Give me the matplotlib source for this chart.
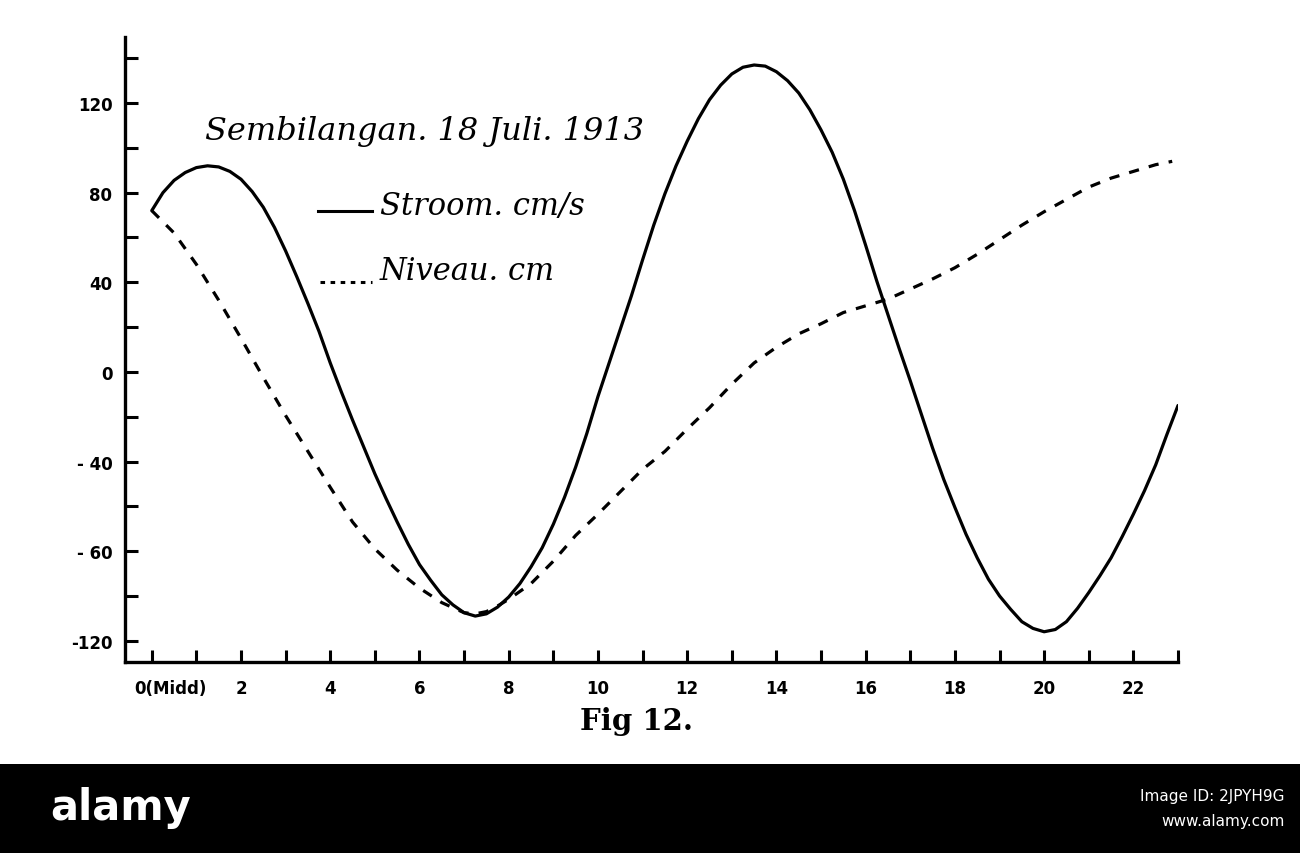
import matplotlib
matplotlib.use("Agg")
import matplotlib.pyplot as plt
from matplotlib.lines import Line2D
from matplotlib.patches import Rectangle

# Stroom (current, cm/s), every quarter hour
stroom_hour = [0, 0.25, 0.5, 0.75, 1.0, 1.25, 1.5, 1.75, 2.0, 2.25, 2.5, 2.75,
               3.0, 3.25, 3.5, 3.75, 4.0, 4.25, 4.5, 4.75, 5.0, 5.25, 5.5, 5.75,
               6.0, 6.25, 6.5, 6.75, 7.0, 7.25, 7.5, 7.75, 8.0, 8.25, 8.5, 8.75,
               9.0, 9.25, 9.5, 9.75, 10.0, 10.25, 10.5, 10.75, 11.0, 11.25, 11.5,
               11.75, 12.0, 12.25, 12.5, 12.75, 13.0, 13.25, 13.5, 13.75, 14.0,
               14.25, 14.5, 14.75, 15.0, 15.25, 15.5, 15.75, 16.0, 16.25, 16.5,
               16.75, 17.0, 17.25, 17.5, 17.75, 18.0, 18.25, 18.5, 18.75, 19.0,
               19.25, 19.5, 19.75, 20.0, 20.25, 20.5, 20.75, 21.0, 21.25, 21.5,
               21.75, 22.0, 22.25, 22.5, 22.75, 23.0]
stroom_val = [72, 80, 85.5, 89, 91.2, 92, 91.5, 89.5, 86, 80.5, 73.5, 64.5,
              54, 42.5, 30.5, 18, 4, -9, -21.5, -33.5, -45.5, -56.5, -67, -77,
              -86, -93, -99.5, -104, -107.5, -109, -108, -105, -100.5, -94.5, -87, -78.5,
              -68, -56, -42.5, -27.5, -11, 4, 19, 34, 50, 65.5, 79.5,
              92, 103, 113, 121.5, 128, 133, 136, 137, 136.5, 134,
              130, 124.5, 117, 108, 98, 86, 72, 56.5, 40.5, 25.5,
              10.5, -4, -19, -34, -48, -60.5, -72.5, -83, -92.5, -100,
              -106, -111.5, -114.5, -116, -115, -111.5, -105.5, -98.5, -91, -83,
              -73.5, -63.5, -53, -41.5, -28, -15]

# Niveau (water level, cm)
niveau_hour = [0, 0.5, 1.0, 1.5, 2.0, 2.5, 3.0, 3.5, 4.0, 4.5, 5.0, 5.5,
               6.0, 6.5, 7.0, 7.25, 7.5, 7.75, 8.0, 8.5, 9.0, 9.5, 10.0, 10.5,
               11.0, 11.5, 12.0, 12.5, 13.0, 13.5, 14.0, 14.5, 15.0, 15.5, 16.0,
               16.5, 17.0, 17.5, 18.0, 18.5, 19.0, 19.5, 20.0, 20.5, 21.0, 21.5,
               22.0, 22.5, 22.87]
niveau_val = [72, 62, 48, 32, 15, -2.5, -19.5, -35.5, -51.5, -67, -79, -88.5,
              -96.5, -103, -107.5, -108, -107, -104.5, -101.5, -94.5, -84.5, -73, -63.5, -53.5,
              -43.5, -35.5, -25.5, -16, -5.5, 4, 11, 17, 21.5, 26.5, 29.5,
              32.5, 37, 41.5, 46.5, 52.5, 59, 65.5, 71.5, 77, 82.5, 86.5,
              89.5, 92.5, 94]

x_ticks = list(range(0, 24))
x_labels = ["", "", "2", "", "4", "", "6", "", "8", "", "10", "", "12", "",
            "14", "", "16", "", "18", "", "20", "", "22", ""]
y_ticks = [-120, -100, -80, -60, -40, -20, 0, 20, 40, 60, 80, 100, 120, 140]
y_labels = ["-120", "", "- 60", "", "- 40", "", "0", "", "40", "", "80", "", "120", ""]

W, H = 1300, 854
fig = plt.figure(figsize=(13, 8.54), dpi=100)
ax = fig.add_axes([125 / W, 1 - 663 / H, (1178 - 125) / W, (663 - 38) / H])

ax.plot(stroom_hour, stroom_val, color="black", lw=2.3, solid_capstyle="round",
        solid_joinstyle="round")
nl, = ax.plot(niveau_hour, niveau_val, color="black", lw=2.3)
nl.set_dashes((3.2, 3.2))

ax.set_xlim(-0.6, 23.0)
ax.set_ylim(-129.5, 149.5)

for s in ["top", "right"]:
    ax.spines[s].set_visible(False)
for s in ["left", "bottom"]:
    ax.spines[s].set_linewidth(2.4)

lab_font = dict(family=["Liberation Sans Narrow", "DejaVu Sans"], weight="bold", size=12)
ax.set_xticks(x_ticks)
ax.set_xticklabels(x_labels, **lab_font)
ax.set_yticks(y_ticks)
ax.set_yticklabels(y_labels, **lab_font)
ax.tick_params(axis="both", direction="in", length=9, width=2.2, color="black")
ax.tick_params(axis="x", pad=12)
ax.tick_params(axis="y", pad=9)
ax.text(-0.4, -0.042, "0(Midd)", transform=ax.get_xaxis_transform(),
        ha="left", va="center", **lab_font)

# title and legend, drawn as in the figure
fig.text(205 / W, 1 - 132 / H, "Sembilangan. 18 Juli. 1913",
         family="DejaVu Serif", style="italic", size=23, ha="left", va="center")
fig.add_artist(Line2D([318 / W, 372 / W], [1 - 212 / H, 1 - 212 / H],
                      color="black", lw=2.2))
fig.text(380 / W, 1 - 207 / H, "Stroom. cm/s", family="DejaVu Serif",
         style="italic", size=22, ha="left", va="center")
leg2 = Line2D([320 / W, 372 / W], [1 - 283 / H, 1 - 283 / H], color="black", lw=2.2)
leg2.set_dashes((1.5, 1.8))
fig.add_artist(leg2)
fig.text(380 / W, 1 - 272 / H, "Niveau. cm", family="DejaVu Serif",
         style="italic", size=22, ha="left", va="center")

fig.text(637 / W, 1 - 722 / H, "Fig 12.", family="DejaVu Serif",
         weight="bold", size=21, ha="center", va="center")

# stock photo banner at the bottom
fig.add_artist(Rectangle((0, 0), 1, 89 / H, transform=fig.transFigure,
                         facecolor="black", edgecolor="none"))
fig.text(50 / W, 1 - 808 / H, "alamy", color="white", weight="bold",
         family="DejaVu Sans", size=30, ha="left", va="center")
fig.text(1285 / W, 1 - 797 / H, "Image ID: 2JPYH9G", color="white",
         family="DejaVu Sans", size=11, ha="right", va="center")
fig.text(1285 / W, 1 - 822 / H, "www.alamy.com", color="white",
         family="DejaVu Sans", size=11, ha="right", va="center")

fig.savefig("out.png", dpi=100, facecolor="white")
